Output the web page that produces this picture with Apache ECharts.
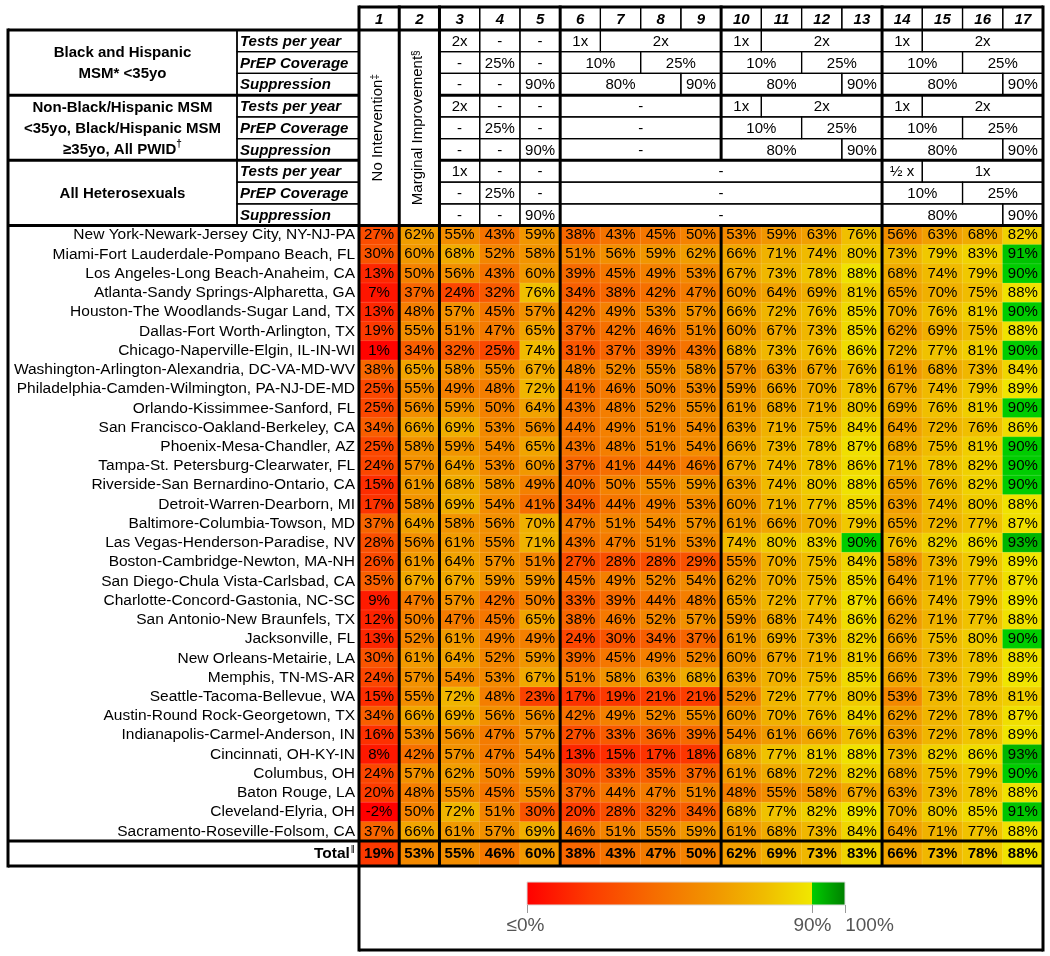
<!DOCTYPE html>
<html><head><meta charset="utf-8">
<script src="https://cdn.jsdelivr.net/npm/echarts/dist/echarts.min.js"></script>
<style>html,body{margin:0;padding:0;background:#fff}#c{width:1050px;height:956px}</style>
</head><body><div id="c"></div><script>
// ---------- DATA ----------
const colLabels = ['1','2','3','4','5','6','7','8','9','10','11','12','13','14','15','16','17'];
const metros = [
 'New York-Newark-Jersey City, NY-NJ-PA','Miami-Fort Lauderdale-Pompano Beach, FL','Los Angeles-Long Beach-Anaheim, CA',
 'Atlanta-Sandy Springs-Alpharetta, GA','Houston-The Woodlands-Sugar Land, TX','Dallas-Fort Worth-Arlington, TX',
 'Chicago-Naperville-Elgin, IL-IN-WI','Washington-Arlington-Alexandria, DC-VA-MD-WV','Philadelphia-Camden-Wilmington, PA-NJ-DE-MD',
 'Orlando-Kissimmee-Sanford, FL','San Francisco-Oakland-Berkeley, CA','Phoenix-Mesa-Chandler, AZ',
 'Tampa-St. Petersburg-Clearwater, FL','Riverside-San Bernardino-Ontario, CA','Detroit-Warren-Dearborn, MI',
 'Baltimore-Columbia-Towson, MD','Las Vegas-Henderson-Paradise, NV','Boston-Cambridge-Newton, MA-NH',
 'San Diego-Chula Vista-Carlsbad, CA','Charlotte-Concord-Gastonia, NC-SC','San Antonio-New Braunfels, TX',
 'Jacksonville, FL','New Orleans-Metairie, LA','Memphis, TN-MS-AR','Seattle-Tacoma-Bellevue, WA',
 'Austin-Round Rock-Georgetown, TX','Indianapolis-Carmel-Anderson, IN','Cincinnati, OH-KY-IN','Columbus, OH',
 'Baton Rouge, LA','Cleveland-Elyria, OH','Sacramento-Roseville-Folsom, CA'
];
const values = [
 [27,62,55,43,59,38,43,45,50,53,59,63,76,56,63,68,82],
 [30,60,68,52,58,51,56,59,62,66,71,74,80,73,79,83,91],
 [13,50,56,43,60,39,45,49,53,67,73,78,88,68,74,79,90],
 [7,37,24,32,76,34,38,42,47,60,64,69,81,65,70,75,88],
 [13,48,57,45,57,42,49,53,57,66,72,76,85,70,76,81,90],
 [19,55,51,47,65,37,42,46,51,60,67,73,85,62,69,75,88],
 [1,34,32,25,74,31,37,39,43,68,73,76,86,72,77,81,90],
 [38,65,58,55,67,48,52,55,58,57,63,67,76,61,68,73,84],
 [25,55,49,48,72,41,46,50,53,59,66,70,78,67,74,79,89],
 [25,56,59,50,64,43,48,52,55,61,68,71,80,69,76,81,90],
 [34,66,69,53,56,44,49,51,54,63,71,75,84,64,72,76,86],
 [25,58,59,54,65,43,48,51,54,66,73,78,87,68,75,81,90],
 [24,57,64,53,60,37,41,44,46,67,74,78,86,71,78,82,90],
 [15,61,68,58,49,40,50,55,59,63,74,80,88,65,76,82,90],
 [17,58,69,54,41,34,44,49,53,60,71,77,85,63,74,80,88],
 [37,64,58,56,70,47,51,54,57,61,66,70,79,65,72,77,87],
 [28,56,61,55,71,43,47,51,53,74,80,83,90,76,82,86,93],
 [26,61,64,57,51,27,28,28,29,55,70,75,84,58,73,79,89],
 [35,67,67,59,59,45,49,52,54,62,70,75,85,64,71,77,87],
 [9,47,57,42,50,33,39,44,48,65,72,77,87,66,74,79,89],
 [12,50,47,45,65,38,46,52,57,59,68,74,86,62,71,77,88],
 [13,52,61,49,49,24,30,34,37,61,69,73,82,66,75,80,90],
 [30,61,64,52,59,39,45,49,52,60,67,71,81,66,73,78,88],
 [24,57,54,53,67,51,58,63,68,63,70,75,85,66,73,79,89],
 [15,55,72,48,23,17,19,21,21,52,72,77,80,53,73,78,81],
 [34,66,69,56,56,42,49,52,55,60,70,76,84,62,72,78,87],
 [16,53,56,47,57,27,33,36,39,54,61,66,76,63,72,78,89],
 [8,42,57,47,54,13,15,17,18,68,77,81,88,73,82,86,93],
 [24,57,62,50,59,30,33,35,37,61,68,72,82,68,75,79,90],
 [20,48,55,45,55,37,44,47,51,48,55,58,67,63,73,78,88],
 [-2,50,72,51,30,20,28,32,34,68,77,82,89,70,80,85,91],
 [37,66,61,57,69,46,51,55,59,61,68,73,84,64,71,77,88]
];
const totals = [19,53,55,46,60,38,43,47,50,62,69,73,83,66,73,78,88];

const groupLabels = [
 '{b|Black and Hispanic}\n{b|MSM* <35yo}',
 '{b|Non-Black/Hispanic MSM}\n{b|<35yo, Black/Hispanic MSM}\n{b|≥35yo, All PWID}{s|†}',
 '{b|All Heterosexuals}'
];
const rowKinds = ['Tests per year','PrEP Coverage','Suppression'];
const col1Title = '{n|No Intervention}{s|‡}';
const col2Title = '{n|Marginal Improvement}{s|§}';
// header spans: [fromCol, toCol, text]
const headerSpans = [
 [[3,3,'2x'],[4,4,'-'],[5,5,'-'],[6,6,'1x'],[7,9,'2x'],[10,10,'1x'],[11,13,'2x'],[14,14,'1x'],[15,17,'2x']],
 [[3,3,'-'],[4,4,'25%'],[5,5,'-'],[6,7,'10%'],[8,9,'25%'],[10,11,'10%'],[12,13,'25%'],[14,15,'10%'],[16,17,'25%']],
 [[3,3,'-'],[4,4,'-'],[5,5,'90%'],[6,8,'80%'],[9,9,'90%'],[10,12,'80%'],[13,13,'90%'],[14,16,'80%'],[17,17,'90%']],
 [[3,3,'2x'],[4,4,'-'],[5,5,'-'],[6,9,'-'],[10,10,'1x'],[11,13,'2x'],[14,14,'1x'],[15,17,'2x']],
 [[3,3,'-'],[4,4,'25%'],[5,5,'-'],[6,9,'-'],[10,11,'10%'],[12,13,'25%'],[14,15,'10%'],[16,17,'25%']],
 [[3,3,'-'],[4,4,'-'],[5,5,'90%'],[6,9,'-'],[10,12,'80%'],[13,13,'90%'],[14,16,'80%'],[17,17,'90%']],
 [[3,3,'1x'],[4,4,'-'],[5,5,'-'],[6,13,'-'],[14,14,'½ x'],[15,17,'1x']],
 [[3,3,'-'],[4,4,'25%'],[5,5,'-'],[6,13,'-'],[14,15,'10%'],[16,17,'25%']],
 [[3,3,'-'],[4,4,'-'],[5,5,'90%'],[6,13,'-'],[14,16,'80%'],[17,17,'90%']]
];
const legendTicks = [['≤0%',0],['90%',90],['100%',100]];
const warmStops = [[0,[255,0,0]],[20,[252,60,0]],[40,[246,108,0]],[60,[241,152,0]],[75,[240,188,0]],[90,[240,232,0]]];
const greenStops = [[90,[0,204,0]],[100,[0,128,0]]];

// ---------- LAYOUT ----------
const FONT = '"Liberation Sans", Arial, sans-serif';
const L = 359, R = 1043, colW = (R - L) / 17;
const TOP = 7, HT = 30, HB = 225.5, DB = 841, TB = 866, LB = 950, LEFT = 8, SUBX = 237;
const hh = (HB - HT) / 9;
const THICK = 3, THIN = 1.2;

function interp(stops, v) {
  if (v <= stops[0][0]) return stops[0][1];
  for (let i = 1; i < stops.length; i++) {
    if (v <= stops[i][0]) {
      const a = stops[i-1], b = stops[i], t = (v - a[0]) / (b[0] - a[0]);
      return a[1].map((c, k) => Math.round(c + (b[1][k] - c) * t));
    }
  }
  return stops[stops.length-1][1];
}
function colorAt(v) {
  const c = v >= 90 ? interp(greenStops, v) : interp(warmStops, v);
  return 'rgb(' + c.join(',') + ')';
}
const palette = [];
for (let i = 0; i <= 100; i++) palette.push(colorAt(i));

const cellData = [];
values.forEach((row, r) => row.forEach((v, c) => cellData.push([c, r, v])));
const totalData = totals.map((v, c) => [c, 0, v]);

// ---------- GRAPHICS (table frame) ----------
const g = [];
const cx = c => L + (c - 1) * colW;
function line(x1, y1, x2, y2, w) {
  g.push({type:'line', z:20, shape:{x1, y1, x2, y2}, style:{stroke:'#000', lineWidth:w}});
}
function box(x, y, w, h, lw) {
  g.push({type:'rect', z:19, shape:{x, y, width:w, height:h}, style:{fill:'none', stroke:'#000', lineWidth:lw}});
}
function txt(x, y, text, font) {
  g.push({type:'text', z:21, x, y, style:{text, font, fill:'#000', align:'center', verticalAlign:'middle'}});
}
// column number row
colLabels.forEach((lab, i) => {
  box(cx(i+1), TOP, colW, HT - TOP, THIN);
  txt(cx(i+1) + colW/2, (TOP + HT)/2 + 1, lab, 'italic bold 15px ' + FONT);
});
// header spans
headerSpans.forEach((spans, r) => {
  const y = HT + r * hh;
  spans.forEach(([a, b, t]) => {
    box(cx(a), y, (b - a + 1) * colW, hh, THIN);
    txt(cx(a) + (b - a + 1) * colW / 2, y + hh/2 + 1, t, '15px ' + FONT);
  });
  box(SUBX, y, L - SUBX, hh, THIN);
  g.push({type:'text', z:21, x: SUBX + 3, y: y + hh/2 + 1,
    style:{text: rowKinds[r % 3], font:'italic bold 15px ' + FONT, fill:'#000', align:'left', verticalAlign:'middle'}});
});
// group labels
groupLabels.forEach((t, i) => {
  g.push({type:'text', z:21, x:(LEFT + SUBX)/2, y: HT + (3*i + 1.5) * hh + 1,
    style:{text:t, align:'center', verticalAlign:'middle', fill:'#000',
      rich:{b:{font:'bold 15px ' + FONT, lineHeight:21, fill:'#000'}, s:{font:'bold 10px ' + FONT, lineHeight:21, verticalAlign:'top', fill:'#000'}}}});
});
// rotated titles for columns 1 and 2
[[col1Title, 1], [col2Title, 2]].forEach(([t, c]) => {
  g.push({type:'text', z:21, x: cx(c) + colW/2 - 1, y:(HT + HB)/2, rotation: Math.PI/2,
    style:{text:t, align:'center', verticalAlign:'middle', fill:'#000',
      rich:{n:{font:'15px ' + FONT, fill:'#000'}, s:{font:'10px ' + FONT, verticalAlign:'top', fill:'#000'}}}});
});
// thick frame lines
line(L, TOP, R, TOP, THICK);
line(LEFT, HT, R, HT, THICK);
[HT + 3*hh, HT + 6*hh].forEach(y => { line(LEFT, y, L, y, THICK); line(cx(3), y, R, y, THICK); });
line(LEFT, HB, R, HB, THICK);
line(LEFT, DB, R, DB, THICK);
line(LEFT, TB, R, TB, THICK);
line(L, LB, R, LB, THICK);
line(LEFT, HT - 1.5, LEFT, TB + 1.5, THICK);
line(SUBX, HT, SUBX, HB, 1.5);
[1, 2, 3, 6, 14].forEach(c => line(cx(c), TOP - 1.5, cx(c), TB, THICK));
line(L, TB, L, LB + 1.5, THICK);
line(R, TOP - 1.5, R, LB + 1.5, THICK);
line(cx(10), TOP - 1.5, cx(10), HT + 6*hh, THICK);
line(cx(10), HB, cx(10), TB, THICK);

// legend
const barX0 = 527, bar90 = 812, bar100 = 845, barY = 882, barH = 23;
g.push({type:'rect', z:15, shape:{x:barX0, y:barY, width:bar90 - barX0, height:barH},
  style:{fill:{type:'linear', x:0, y:0, x2:1, y2:0, colorStops: warmStops.map(s => ({offset:s[0]/90, color:colorAt(Math.min(s[0], 89.999))}))}}});
g.push({type:'rect', z:15, shape:{x:bar90, y:barY, width:bar100 - bar90, height:barH},
  style:{fill:{type:'linear', x:0, y:0, x2:1, y2:0, colorStops:[{offset:0, color:colorAt(90)}, {offset:1, color:colorAt(100)}]}}});
g.push({type:'rect', z:16, shape:{x:barX0, y:barY, width:bar100 - barX0, height:barH}, style:{fill:'none', stroke:'#ddd', lineWidth:1}});
const tickX = v => v <= 90 ? barX0 + (bar90 - barX0) * v / 90 : bar90 + (bar100 - bar90) * (v - 90) / 10;
const labelOffset = [ -2, 0, 24 ];
legendTicks.forEach(([t, v], i) => {
  const x = Math.round(tickX(v)) + 0.5;
  g.push({type:'line', z:16, shape:{x1:x, y1:barY + barH, x2:x, y2:barY + barH + 8}, style:{stroke:'#999', lineWidth:1}});
  g.push({type:'text', z:16, x: x + labelOffset[i], y: 926, style:{text:t, font:'19px ' + FONT, fill:'#555', align:'center', verticalAlign:'middle'}});
});

// ---------- CHART ----------
const chart = echarts.init(document.getElementById('c'), null, {renderer:'canvas'});
const labelStyle = {show:true, formatter: p => p.value[2] + '%', color:'#000', fontSize:15, fontFamily:FONT};
chart.setOption({
  animation:false,
  backgroundColor:'#fff',
  grid:[
    {left:L, top:HB, width:R - L, height:DB - HB},
    {left:L, top:DB, width:R - L, height:TB - DB}
  ],
  xAxis:[
    {type:'category', data:colLabels, gridIndex:0, show:false},
    {type:'category', data:colLabels, gridIndex:1, show:false}
  ],
  yAxis:[
    {type:'category', data:metros, gridIndex:0, inverse:true, axisLine:{show:false}, axisTick:{show:false},
     axisLabel:{interval:0, fontSize:15.5, color:'#000', fontFamily:FONT, margin:4}},
    {type:'category', data:['Total'], gridIndex:1, axisLine:{show:false}, axisTick:{show:false},
     axisLabel:{interval:0, margin:4, formatter: v => '{b|' + v + '}{s|ǁ}',
       rich:{b:{fontSize:15.5, fontWeight:'bold', color:'#000', fontFamily:FONT}, s:{fontSize:10, color:'#000', fontFamily:FONT, verticalAlign:'top', padding:[0,0,6,1]}}}}
  ],
  visualMap:{type:'continuous', show:false, min:0, max:100, dimension:2, seriesIndex:[0,1], inRange:{color:palette}},
  series:[
    {type:'heatmap', xAxisIndex:0, yAxisIndex:0, data:cellData, label:labelStyle,
     itemStyle:{borderColor:'rgba(255,255,255,0.25)', borderWidth:0.5}, emphasis:{disabled:true}},
    {type:'heatmap', xAxisIndex:1, yAxisIndex:1, data:totalData, label:Object.assign({}, labelStyle, {fontWeight:'bold'}),
     itemStyle:{borderColor:'rgba(255,255,255,0.25)', borderWidth:0.5}, emphasis:{disabled:true}}
  ],
  graphic:{elements:g}
});
</script></body></html>
